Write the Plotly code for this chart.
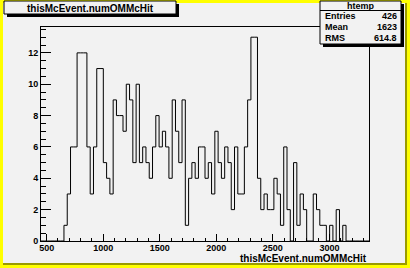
import plotly.graph_objects as go

# ---------------- data ----------------
x_min = 450.0
x_max = 3350.0
n_bins = 100
first_bin = 7
bin_counts = [1, 3, 6, 6, 12, 12, 12, 6, 3, 6, 11, 11, 5, 4, 3, 9, 8, 8, 7, 10,
              9, 5, 10, 5, 6, 5, 4, 6, 8, 6, 7, 6, 4, 9, 7, 5, 9, 1, 4, 5,
              4, 6, 6, 4, 5, 3, 7, 5, 4, 6, 5, 2, 6, 3, 3, 6, 9, 13, 13, 4,
              2, 3, 2, 2, 4, 3, 1, 6, 2, 0, 5, 1, 3, 2, 0, 0, 3, 2, 1, 1,
              0, 1, 0, 2, 0, 1]
counts = [0] * first_bin + bin_counts
counts += [0] * (n_bins - len(counts))

hist_name = "htemp"
title_text = "thisMcEvent.numOMMcHit"
stat_labels = ["Entries", "Mean", "RMS"]
stat_values = ["426", "1623", "614.8"]
x_tick_vals = [500, 1000, 1500, 2000, 2500, 3000]
y_tick_vals = [0, 2, 4, 6, 8, 10, 12]
y_max = 13.65

# ---------------- geometry ----------------
W, H = 410, 268
ML, MR, MT, MB = 41, 41, 27, 27
PW, PH = W - ML - MR, H - MT - MB

def px(x):
    return (x - ML) / PW

def py(y):
    return 1 - (y - MT) / PH

BG = "#f2f2f2"
YEL = "#ffff00"
OLIVE = "#9a9a00"
FONT = "Liberation Sans"

bw = (x_max - x_min) / n_bins
edges = [x_min + i * bw for i in range(n_bins + 1)]
ys = counts + [counts[-1]]

fig = go.Figure()
fig.add_trace(go.Scatter(x=edges, y=ys, mode="lines", line=dict(color="black", width=1, shape="hv"),
                         hoverinfo="skip", showlegend=False, cliponaxis=False))

shapes = []
def rect(x0, y0, x1, y1, fill, line=None, layer="above"):
    shapes.append(dict(type="rect", xref="paper", yref="paper", x0=px(x0), x1=px(x1), y0=py(y1), y1=py(y0),
                       fillcolor=fill, line=dict(width=0) if line is None else line, layer=layer))

def hline(x0, x1, y, w=1, color="black"):
    shapes.append(dict(type="line", xref="paper", yref="paper", x0=px(x0), x1=px(x1), y0=py(y), y1=py(y),
                       line=dict(color=color, width=w), layer="above"))

# canvas background & bevel
rect(3, 3, 405, 263, BG, layer="below")
rect(405, 3, 407, 265, OLIVE, layer="below")
rect(3, 263, 407, 265, OLIVE, layer="below")

# title box
rect(7, 4, 179, 17, "black")        # shadow
rect(4, 1, 176, 14, BG, line=dict(color="black", width=1))

# stats box
rect(323, 4, 404, 47, "black")       # shadow
rect(320, 1, 401, 44, BG, line=dict(color="black", width=1))
hline(320, 401, 10.5)

annotations = [
    dict(x=px(90), y=py(8), xref="paper", yref="paper", text=title_text, showarrow=False,
         xanchor="center", yanchor="middle", font=dict(family=FONT, size=10, color="black", weight="bold")),
    dict(x=px(360.5), y=py(5.5), xref="paper", yref="paper", text=hist_name, showarrow=False,
         xanchor="center", yanchor="middle", font=dict(family=FONT, size=9, color="black", weight="bold")),
    dict(x=px(369), y=py(258.5), xref="paper", yref="paper", text=title_text, showarrow=False,
         xanchor="right", yanchor="middle", font=dict(family=FONT, size=10, color="black", weight="bold")),
]
row_y = [16.5, 27, 37.5]
for lab, val, yy in zip(stat_labels, stat_values, row_y):
    annotations.append(dict(x=px(323), y=py(yy), xref="paper", yref="paper", text=lab, showarrow=False,
                            xanchor="left", yanchor="middle",
                            font=dict(family=FONT, size=9, color="black", weight="bold")))
    annotations.append(dict(x=px(399), y=py(yy), xref="paper", yref="paper", text=val, showarrow=False,
                            xanchor="right", yanchor="middle",
                            font=dict(family=FONT, size=9, color="black", weight="bold")))

fig.update_layout(
    width=W, height=H,
    margin=dict(l=ML, r=MR, t=MT, b=MB, pad=0),
    paper_bgcolor=YEL,
    plot_bgcolor="rgba(0,0,0,0)",
    shapes=shapes,
    annotations=annotations,
    showlegend=False,
    xaxis=dict(range=[x_min, x_max], showgrid=False, zeroline=False,
               showline=True, linecolor="black", linewidth=1, mirror=True,
               ticks="inside", ticklen=7, tickwidth=1, tickcolor="black",
               tickmode="array", tickvals=x_tick_vals, ticktext=[str(v) for v in x_tick_vals],
               tickfont=dict(family=FONT, size=9, color="black", weight="bold"),
               ticklabelstandoff=-2,
               minor=dict(ticks="inside", ticklen=3.5, dtick=100, tick0=0, tickcolor="black", showgrid=False),
               fixedrange=True),
    yaxis=dict(range=[0, y_max], showgrid=False, zeroline=False,
               showline=True, linecolor="black", linewidth=1, mirror=True,
               ticks="inside", ticklen=10, tickwidth=1, tickcolor="black",
               tickmode="array", tickvals=y_tick_vals, ticktext=[str(v) for v in y_tick_vals],
               tickfont=dict(family=FONT, size=9, color="black", weight="bold"),
               minor=dict(ticks="inside", ticklen=5, dtick=0.5, tick0=0, tickcolor="black", showgrid=False),
               fixedrange=True),
)

fig.write_html("out.html")
